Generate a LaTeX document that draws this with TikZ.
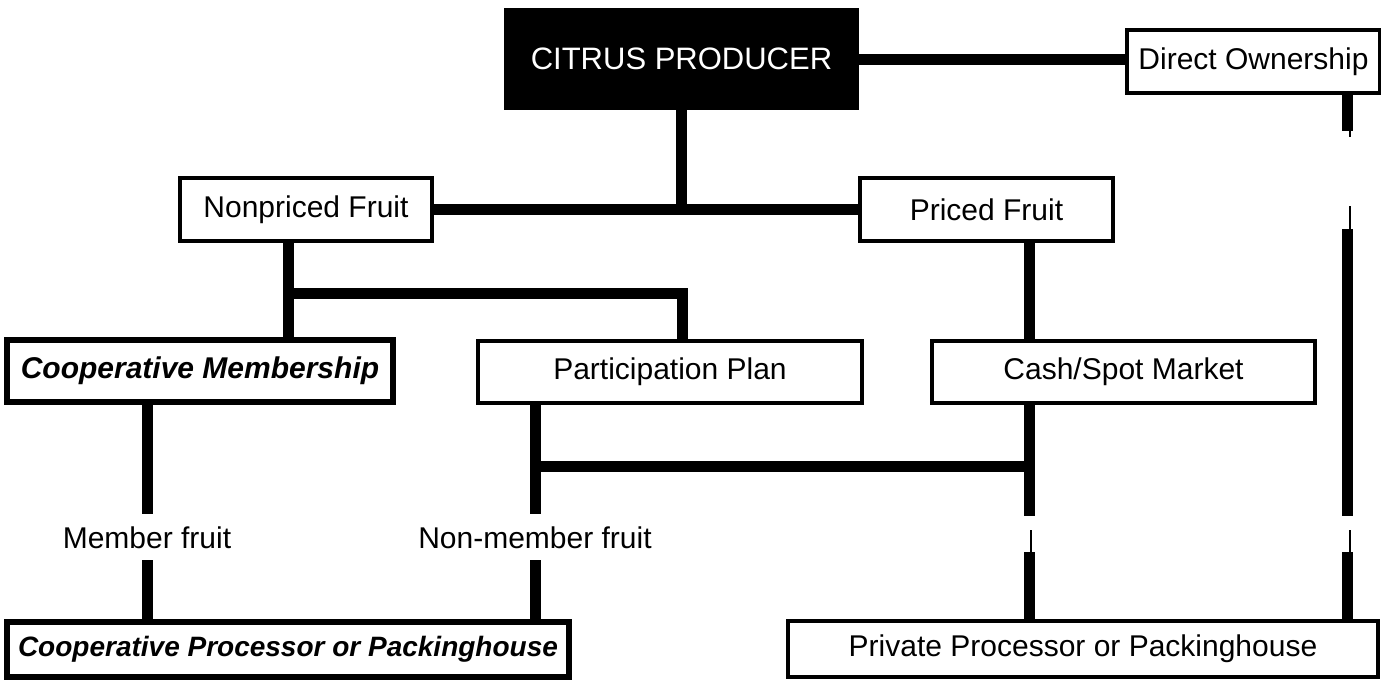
\documentclass[tikz,border=0pt]{standalone}
\usepackage{fontspec}
\setmainfont{Liberation Sans}
\usepackage{tikz}

\tikzset{
  box/.style={shape=rectangle, draw=black, line width=2pt, fill=white, inner sep=0pt, font=\fontsize{15}{18}\selectfont},
  coopbox/.style={box, line width=3pt, font=\fontsize{15}{18}\selectfont\bfseries\itshape},
  headbox/.style={box, fill=black, text=white, font=\fontsize{15.5}{18}\selectfont},
  fruitlabel/.style={inner sep=0pt, text height=11pt, text depth=0pt, minimum height=23pt, font=\fontsize{15}{18}\selectfont},
  link/.style={line width=5.5pt},
  tick/.style={line width=1pt},
}

\begin{document}
\begin{tikzpicture}[x=0.5pt,y=-0.5pt]
\useasboundingbox (0,0) rectangle (1381,680);
\node[headbox, minimum width=175.5pt, minimum height=49pt] (prod) at (681.5,59) {CITRUS PRODUCER};
\node[box, minimum width=126.5pt, minimum height=31.5pt] (direct) at (1253.5,61.5) {Direct Ownership};
\node[box, minimum width=126pt, minimum height=31.5pt] (nonpriced) at (306,209.5) {Nonpriced Fruit};
\node[box, minimum width=126.5pt, minimum height=31.5pt] (priced) at (986.5,209.5) {Priced Fruit};
\node[coopbox, minimum width=193pt, minimum height=31pt] (coopmem) at (200,371) {Cooperative Membership};
\node[box, minimum width=192pt, minimum height=31pt] (partplan) at (670,372) {Participation Plan};
\node[box, minimum width=191.5pt, minimum height=31pt] (cash) at (1123.5,372) {Cash/Spot Market};
\node[fruitlabel] (member) at (147,537) {Member fruit};
\node[fruitlabel] (nonmember) at (535,537) {Non-member fruit};
\node[coopbox, minimum width=281pt, minimum height=27.5pt, font=\fontsize{14}{17}\selectfont\bfseries\itshape] (coopproc) at (288,649.5) {Cooperative Processor or Packinghouse};
\node[box, minimum width=295pt, minimum height=28pt] (private) at (1083,649) {Private Processor or Packinghouse};
\coordinate (j1) at (288,293);
\coordinate (j2) at (682,293);
\coordinate (c1) at (1029,466);
\coordinate (c2) at (1029,516);
\coordinate (c3) at (1029,552);
\coordinate (r1) at (1347,131);
\coordinate (r2) at (1347,229);
\coordinate (r3) at (1347,516);
\coordinate (r4) at (1347,552);
\path [link] (prod.east) edge (prod.east -| direct.west);
\path [link] (prod.south) edge (prod.south |- nonpriced.east);
\path [link] (nonpriced.east) edge (priced.west);
\draw [link] (j1 |- nonpriced.south) -- (j1) -- (j2) -- (j2 |- partplan.north);
\path [link] (j1) edge (j1 |- coopmem.north);
\path [link] (priced.south -| c1) edge (cash.north -| c1);
\path [link] (coopmem.south -| member.north) edge (member.north);
\path [link] (member.south) edge (member.south |- coopproc.north);
\path [link] (partplan.south -| nonmember.north) edge (nonmember.north);
\path [link] (nonmember.north |- c1) edge (c1);
\path [link] (nonmember.south) edge (nonmember.south |- coopproc.north);
\path [link] (cash.south -| c1) edge (c2);
\draw [tick] ([xshift=1pt]c3) -- ++(0,-22);
\path [link] (c3) edge (c3 |- private.north);
\path [link] (direct.south -| r1) edge (r1);
\draw [tick] ([xshift=1.5pt]r1) -- ++(0,6);
\draw [tick] ([xshift=1.5pt]r2) -- ++(0,-23);
\path [link] (r2) edge (r3);
\draw [tick] ([xshift=1.5pt]r4) -- ++(0,-22);
\path [link] (r4) edge (r4 |- private.north);
\end{tikzpicture}
\end{document}
